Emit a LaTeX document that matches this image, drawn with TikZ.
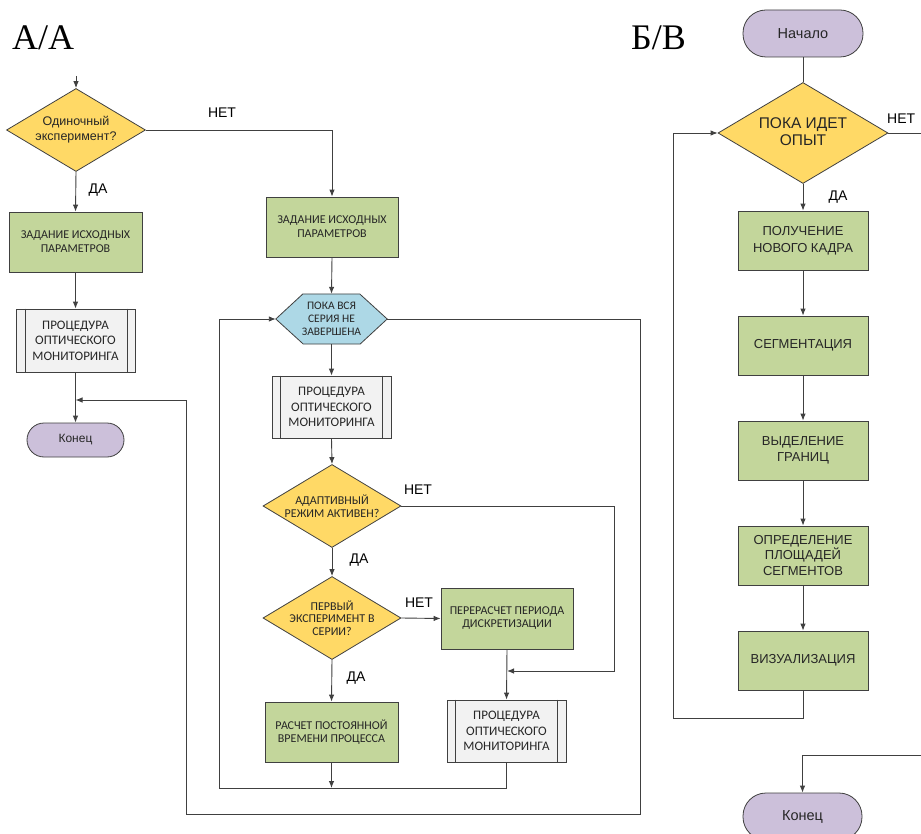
\documentclass[tikz,border=0pt]{standalone}
\usepackage{fontspec}
\setmainfont{Liberation Sans}
\newfontfamily\carl{Carlito}
\newfontfamily\tms{Liberation Serif}
\usetikzlibrary{arrows.meta,shapes.geometric}
\definecolor{greenc}{HTML}{C3D69B}
\definecolor{yellowc}{HTML}{FFD966}
\definecolor{purplec}{HTML}{CCC0DA}
\definecolor{bluec}{HTML}{ADD8E6}
\definecolor{grayc}{HTML}{F2F2F2}
\definecolor{edgec}{HTML}{404040}
\newcommand\myfs[2]{\fontsize{#1}{#2}\selectfont}
\begin{document}
\begin{tikzpicture}[x=1pt,y=-1pt,
  ln/.style={draw=edgec, line width=0.9pt},
  arr/.style={ln, -{Latex[length=7pt,width=5.5pt]}},
  shp/.style={draw=edgec, line width=0.8pt, align=center, inner sep=0pt, text=black!85},
  box/.style={shp, fill=greenc},
  proc/.style={shp, fill=grayc},
  term/.style={shp, fill=purplec},
  dia/.style={shp, fill=yellowc, diamond},
  txt/.style={align=center, inner sep=0pt, text=black!85},
  lab/.style={font=\myfs{14}{16}, text=black, inner sep=0pt},
]
\useasboundingbox (0,0) rectangle (921,834);
\fill[white] (0,0) rectangle (921,834);

% titles
\node[anchor=base west, font=\tms\myfs{36}{40}, inner sep=0pt] (tA) at (12,50) {А/А};
\node[anchor=base west, font=\tms\myfs{36}{40}, inner sep=0pt] (tB) at (631,50) {Б/В};

% ---------- left column ----------
\coordinate (st) at (76,76);
\node[dia, minimum width=139pt, minimum height=83pt] (d1) at (76,130) {};
\node[txt, font=\myfs{12.5}{15}] (d1t) at (76,130) {Одиночный\\эксперимент?};
\node[box, minimum width=133pt, minimum height=60pt, font=\carl\myfs{12}{14}] (b1) at (75.5,242) {ЗАДАНИЕ ИСХОДНЫХ\\ПАРАМЕТРОВ};
\node[proc, minimum width=119pt, minimum height=63pt, font=\carl\myfs{13}{15.5}] (p1) at (75.5,340.5) {ПРОЦЕДУРА\\ОПТИЧЕСКОГО\\МОНИТОРИНГА};
\draw[edgec, line width=0.8pt] ([xshift=10pt]p1.north west) -- ([xshift=10pt]p1.south west)
  ([xshift=-8pt]p1.north east) -- ([xshift=-8pt]p1.south east);
\node[term, minimum width=97pt, minimum height=34pt, rounded corners=17pt, font=\myfs{12}{14}] (e1) at (75.5,440) {Конец};

\draw[arr] (st) -- (d1.north);
\draw[arr] (d1.south) -- (b1.north);
\node[lab] (l1) at (98,190) {ДА};
\draw[arr] (b1.south) -- (p1.north);
\draw[arr] (p1.south) -- (e1.north);

% ---------- middle column ----------
\node[box, minimum width=132pt, minimum height=60pt, font=\carl\myfs{12}{14}] (b2) at (332,227) {ЗАДАНИЕ ИСХОДНЫХ\\ПАРАМЕТРОВ};
\draw[arr] (d1.east) -| (b2.north);
\node[lab] (l2) at (222,113) {НЕТ};

\node[minimum width=111pt, minimum height=50pt, inner sep=0pt] (hx) at (331.5,319) {};
\draw[edgec, line width=0.8pt, fill=bluec] (hx.west) -- ++(27,-25) -- ++(57,0) -- (hx.east) -- ++(-27,25) -- ++(-57,0) -- cycle;
\node[txt, font=\carl\myfs{11.5}{13}] (hxt) at (331.5,319) {ПОКА ВСЯ\\СЕРИЯ НЕ\\ЗАВЕРШЕНА};
\draw[arr] (b2.south) -- (hx.north);

\node[proc, minimum width=119pt, minimum height=62pt, font=\carl\myfs{13}{15.5}] (p2) at (331.5,407) {ПРОЦЕДУРА\\ОПТИЧЕСКОГО\\МОНИТОРИНГА};
\draw[edgec, line width=0.8pt] ([xshift=9pt]p2.north west) -- ([xshift=9pt]p2.south west)
  ([xshift=-9pt]p2.north east) -- ([xshift=-9pt]p2.south east);
\draw[arr] (hx.south) -- (p2.north);

\node[dia, minimum width=138pt, minimum height=83pt] (d2) at (332,506) {};
\node[txt, font=\carl\myfs{12}{13}] (d2t) at (332,506) {АДАПТИВНЫЙ\\РЕЖИМ АКТИВЕН?};
\draw[arr] (p2.south) -- (d2.north);

\node[dia, minimum width=138pt, minimum height=83pt] (d3) at (332,618) {};
\node[txt, font=\carl\myfs{12}{12.7}] (d3t) at (332,618) {ПЕРВЫЙ\\ЭКСПЕРИМЕНТ В\\СЕРИИ?};
\draw[arr] (d2.south) -- (d3.north);
\node[lab] (l3) at (359,560) {ДА};

\node[box, minimum width=132pt, minimum height=61pt, font=\carl\myfs{12}{13}] (b3) at (507,618.5) {ПЕРЕРАСЧЕТ ПЕРИОДА\\ДИСКРЕТИЗАЦИИ};
\draw[arr] (d3.east) -- (b3.west);
\node[lab] (l4) at (419,603) {НЕТ};

\node[box, minimum width=133pt, minimum height=60pt, font=\carl\myfs{12}{13}] (b4) at (331.5,732) {РАСЧЕТ ПОСТОЯННОЙ\\ВРЕМЕНИ ПРОЦЕССА};
\draw[arr] (d3.south) -- (b4.north);
\node[lab] (l5) at (356,678) {ДА};

\node[proc, minimum width=119pt, minimum height=62pt, font=\carl\myfs{13}{15.5}] (p3) at (506.5,731) {ПРОЦЕДУРА\\ОПТИЧЕСКОГО\\МОНИТОРИНГА};
\draw[edgec, line width=0.8pt] ([xshift=9pt]p3.north west) -- ([xshift=9pt]p3.south west)
  ([xshift=-9pt]p3.north east) -- ([xshift=-9pt]p3.south east);
\draw[arr] (b3.south) -- (p3.north);

\coordinate (m1) at (507,671);
\draw[arr] (d2.east) -- (614,506) -- (614,671) -- (m1);
\node[lab] (l6) at (418,490) {НЕТ};

\coordinate (j1) at (331.5,788);
\draw[arr] (b4.south) -- (j1);
\draw[ln] (p3.south) -- (506.5,788) -- (219,788) -- (219,319);
\draw[arr] (219,319) -- (hx.west);

\coordinate (j2) at (75.5,400);
\draw[ln] (hx.east) -- (640,319) -- (640,814) -- (186,814) -- (186,400);
\draw[arr] (186,400) -- (j2);

% ---------- right column ----------
\node[term, minimum width=120pt, minimum height=47pt, rounded corners=23pt, font=\myfs{14.5}{16}] (s0) at (803,33.5) {Начало};
\node[dia, minimum width=170pt, minimum height=101pt] (d4) at (803,133) {};
\node[txt, font=\myfs{15.5}{17}] (d4t) at (803,132) {ПОКА ИДЕТ\\ОПЫТ};
\draw[ln] (s0.south) -- (d4.north);
\coordinate (rr) at (921,133);
\draw[ln] (d4.east) -- (rr);
\node[lab, anchor=west] (l7) at (887,119) {НЕТ};

\node[box, minimum width=130pt, minimum height=59pt, font=\myfs{13}{17}] (r1) at (803,240.5) {ПОЛУЧЕНИЕ\\НОВОГО КАДРА};
\node[box, minimum width=130pt, minimum height=59pt, font=\myfs{13}{16}] (r2) at (803,345.5) {СЕГМЕНТАЦИЯ};
\node[box, minimum width=130pt, minimum height=59pt, font=\myfs{13}{16}] (r3) at (803,450.5) {ВЫДЕЛЕНИЕ\\ГРАНИЦ};
\node[box, minimum width=130pt, minimum height=59pt, font=\myfs{13}{15.5}] (r4) at (803,555.5) {ОПРЕДЕЛЕНИЕ\\ПЛОЩАДЕЙ\\СЕГМЕНТОВ};
\node[box, minimum width=130pt, minimum height=59pt, font=\myfs{13}{16}] (r5) at (803,660.5) {ВИЗУАЛИЗАЦИЯ};
\draw[arr] (d4.south) -- (r1.north);
\node[lab] (l8) at (838,197) {ДА};
\draw[arr] (r1.south) -- (r2.north);
\draw[arr] (r2.south) -- (r3.north);
\draw[arr] (r3.south) -- (r4.north);
\draw[arr] (r4.south) -- (r5.north);
\draw[ln] (r5.south) -- (803,718) -- (673,718) -- (673,133);
\draw[arr] (673,133) -- (d4.west);

\node[term, minimum width=119pt, minimum height=47pt, rounded corners=23pt, font=\myfs{14.5}{16}] (e2) at (802.5,816.5) {Конец};
\coordinate (rb) at (921,755);
\draw[arr] (rb) -- (802.5,755) -- (e2.north);
\end{tikzpicture}
\end{document}
